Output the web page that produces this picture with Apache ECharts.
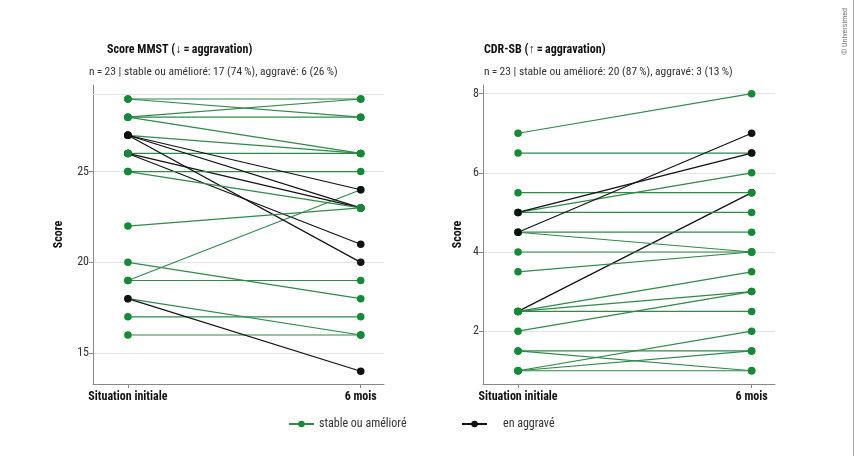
<!DOCTYPE html>
<html><head><meta charset="utf-8">
<script src="https://cdn.jsdelivr.net/npm/echarts@6/dist/echarts.min.js"></script>
<style>html,body{margin:0;padding:0;background:#fff}#c{width:854px;height:456px}</style>
</head><body><div id="c"></div>
<script>
// ---- data (drawing order matters: later lines are drawn on top) ----
const categories = ['Situation initiale', '6 mois'];
// MMST: baseline, 6 months, worsened flag (1 = aggravé)
const mmstBaseline = [26, 26, 29, 29, 28, 28, 28, 26, 27, 25, 20, 19, 19, 18, 17, 16, 27, 27, 27, 18, 25, 22];
const mmstSixMonths = [23, 21, 29, 28, 29, 28, 26, 26, 26, 25, 18, 24, 19, 16, 17, 16, 24, 23, 20, 14, 23, 23];
const mmstWorse    = [1, 1, 0, 0, 0, 0, 0, 0, 0, 0, 0, 0, 0, 0, 0, 0, 1, 1, 1, 1, 0, 0];
// CDR-SB
const cdrBaseline  = [2.5, 7, 6.5, 5.5, 5, 5, 4.5, 4.5, 4, 3.5, 2.5, 2.5, 2.5, 2, 1.5, 1.5, 1, 1, 1, 5, 4.5];
const cdrSixMonths = [5.5, 8, 6.5, 5.5, 6, 5, 4.5, 4, 4, 4, 3.5, 3, 2.5, 3, 1.5, 1, 2, 1.5, 1, 6.5, 7];
const cdrWorse     = [1, 0, 0, 0, 0, 0, 0, 0, 0, 0, 0, 0, 0, 0, 0, 0, 0, 0, 0, 1, 1];
const mmstTicks = [15, 20, 25];
const mmstTopGrid = 29.27;
const cdrTicks = [2, 4, 6, 8];
const nameStable = 'stable ou amélioré';
const nameWorse = 'en aggravé';

const FONT = "'Roboto Condensed',Roboto,sans-serif";
const GREEN_LINE = '#2f8a48';
const GREEN_DOT = '#138a36';
const BLACK = '#111111';

function buildSeries(base, six, worse, axisIdx) {
  return base.map((b, i) => {
    const w = worse[i] === 1;
    return {
      type: 'line', name: w ? nameWorse : nameStable,
      xAxisIndex: axisIdx, yAxisIndex: axisIdx,
      data: [[0, b], [1, six[i]]],
      symbol: 'circle', symbolSize: 7.5, showSymbol: true,
      lineStyle: { color: w ? BLACK : GREEN_LINE, width: 1.2 },
      itemStyle: { color: w ? BLACK : GREEN_DOT },
      emphasis: { disabled: true }, silent: true, animation: false
    };
  });
}

function xAx(gi) {
  return {
    type: 'value', gridIndex: gi, min: -0.15, max: 1.1,
    axisLine: { onZero: false, lineStyle: { color: '#888' } },
    axisTick: { show: true, length: 4, lineStyle: { color: '#888' }, customValues: [0, 1] },
    axisLabel: { customValues: [0, 1], formatter: v => categories[Math.round(v)], color: '#111',
      fontFamily: FONT, fontWeight: 'bold', fontSize: 12, margin: 7 },
    splitLine: { show: false }
  };
}
function yAx(gi, min, max, ticks, gap) {
  return {
    type: 'value', gridIndex: gi, min: min, max: max,
    name: 'Score', nameLocation: 'middle', nameGap: gap,
    nameTextStyle: { fontFamily: FONT, fontWeight: 'bold', fontSize: 12, color: '#111' },
    axisLine: { show: true, onZero: false, lineStyle: { color: '#888' } },
    axisTick: { show: true, length: 4, lineStyle: { color: '#888' }, customValues: ticks },
    axisLabel: { customValues: ticks, color: '#333', fontFamily: FONT, fontSize: 12, margin: 4 },
    splitLine: { show: true, lineStyle: { color: '#e4e4e4', width: 1 } }
  };
}

const series = buildSeries(mmstBaseline, mmstSixMonths, mmstWorse, 0)
  .concat(buildSeries(cdrBaseline, cdrSixMonths, cdrWorse, 1));
series[0].markLine = { silent: true, symbol: 'none', label: { show: false },
  lineStyle: { color: '#e4e4e4', type: 'solid', width: 1 }, data: [{ yAxis: mmstTopGrid }] };

const chart = echarts.init(document.getElementById('c'), null, { renderer: 'canvas' });
chart.setOption({
  backgroundColor: '#fff',
  animation: false,
  textStyle: { fontFamily: FONT },
  title: [
    { text: 'Score MMST (↓\u2009=\u2009aggravation)', left: 102, top: 39,
      textStyle: { fontFamily: FONT, fontWeight: 'bold', fontSize: 12, color: '#111' } },
    { text: 'n\u2009=\u200923 | stable ou amélioré: 17 (74\u2009%), aggravé: 6 (26\u2009%)', left: 84, top: 61,
      textStyle: { fontFamily: FONT, fontWeight: 'normal', fontSize: 11.5, color: '#333' } },
    { text: 'CDR-SB (↑\u2009=\u2009aggravation)', left: 479, top: 39,
      textStyle: { fontFamily: FONT, fontWeight: 'bold', fontSize: 12, color: '#111' } },
    { text: 'n\u2009=\u200923 | stable ou amélioré: 20 (87\u2009%), aggravé: 3 (13\u2009%)', left: 479, top: 61,
      textStyle: { fontFamily: FONT, fontWeight: 'normal', fontSize: 11.5, color: '#333' } }
  ],
  legend: [
    { data: [nameStable], left: 283, top: 413, itemWidth: 25, itemHeight: 8,
      textStyle: { fontFamily: FONT, fontSize: 12, color: '#333' }, selectedMode: false },
    { data: [nameWorse], left: 456, top: 413, itemWidth: 25, itemHeight: 8,
      textStyle: { fontFamily: FONT, fontSize: 12, color: '#333', padding: [0, 0, 0, 11] }, selectedMode: false }
  ],
  grid: [
    { left: 93, top: 85, width: 291, height: 299 },
    { left: 483, top: 85, width: 292, height: 299 }
  ],
  xAxis: [xAx(0), xAx(1)],
  yAxis: [yAx(0, 13.3, 29.77, mmstTicks, 28), yAx(1, 0.665, 8.22, cdrTicks, 19)],
  graphic: [
    { type: 'text', left: 841, top: 8, rotation: Math.PI / 2,
      style: { text: '© Universimed', fontFamily: FONT, fontSize: 8, fill: '#777' } },
    { type: 'rect', shape: { x: 853, y: 0, width: 1, height: 456 }, style: { fill: '#aaa' } }
  ],
  series: series
});
</script></body></html>
